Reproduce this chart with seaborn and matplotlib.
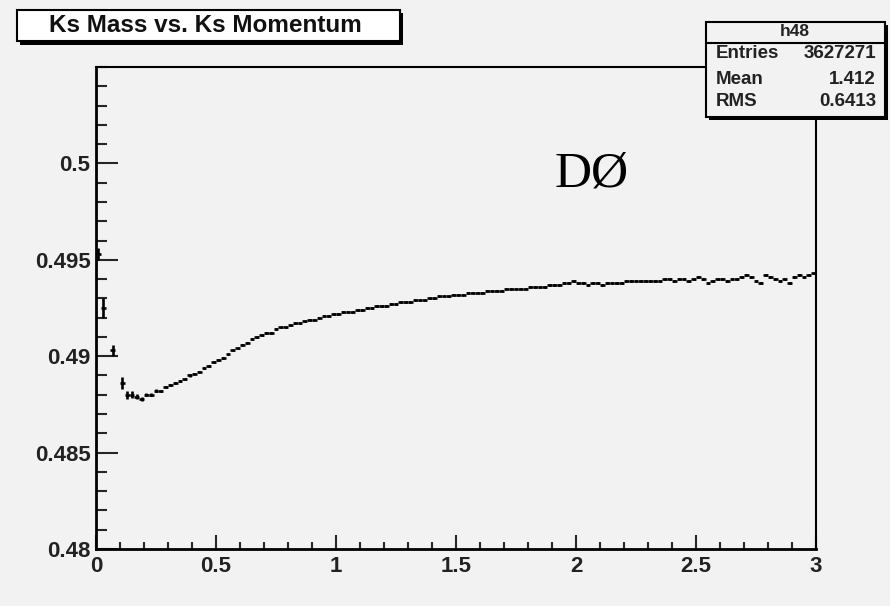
import numpy as np
import pandas as pd
import matplotlib
matplotlib.use("Agg")
import matplotlib.pyplot as plt
from matplotlib.patches import Rectangle
import seaborn as sns

# ---------------- data ----------------
title_text = "Ks Mass vs. Ks Momentum"
hist_name = "h48"
stat_labels = ["Entries", "Mean", "RMS"]
stat_values = ["3627271", "1.412", "0.6413"]
experiment_label = "DØ"

bin_width = 0.02
x_min, x_max = 0.0, 3.0
y_min, y_max = 0.48, 0.505
x_major_ticks = [0, 0.5, 1, 1.5, 2, 2.5, 3]
x_tick_labels = ["0", "0.5", "1", "1.5", "2", "2.5", "3"]
y_major_ticks = [0.48, 0.485, 0.49, 0.495, 0.5]
y_tick_labels = ["0.48", "0.485", "0.49", "0.495", "0.5"]

nan = np.nan
mass = [
    0.4953, 0.4925, nan, 0.4903, nan, 0.4886, 0.4880, 0.4880, 0.4879, 0.4878,
    0.4880, 0.4880, 0.4882, 0.4882, 0.4884, 0.4885, 0.4886, 0.4887, 0.4888, 0.4890,
    0.4891, 0.4892, 0.4894, 0.4895, 0.4897, 0.4898, 0.4899, 0.4901, 0.4903, 0.4904,
    0.4906, 0.4907, 0.4909, 0.4910, 0.4911, 0.4912, 0.4912, 0.4914, 0.4915, 0.4915,
    0.4916, 0.4917, 0.4917, 0.4918, 0.4919, 0.4919, 0.4920, 0.4921, 0.4921, 0.4922,
    0.4922, 0.4923, 0.4923, 0.4923, 0.4924, 0.4924, 0.4925, 0.4925, 0.4926, 0.4926,
    0.4926, 0.4927, 0.4927, 0.4928, 0.4928, 0.4928, 0.4929, 0.4929, 0.4929, 0.4930,
    0.4930, 0.4931, 0.4931, 0.4931, 0.4932, 0.4932, 0.4932, 0.4933, 0.4933, 0.4933,
    0.4933, 0.4934, 0.4934, 0.4934, 0.4934, 0.4935, 0.4935, 0.4935, 0.4935, 0.4935,
    0.4936, 0.4936, 0.4936, 0.4936, 0.4937, 0.4937, 0.4937, 0.4938, 0.4938, 0.4939,
    0.4938, 0.4938, 0.4937, 0.4938, 0.4938, 0.4937, 0.4938, 0.4938, 0.4938, 0.4938,
    0.4939, 0.4939, 0.4939, 0.4939, 0.4939, 0.4939, 0.4939, 0.4939, 0.4940, 0.4940,
    0.4939, 0.4940, 0.4940, 0.4939, 0.4940, 0.4941, 0.4940, 0.4938, 0.4939, 0.4940,
    0.4940, 0.4939, 0.4940, 0.4940, 0.4941, 0.4942, 0.4941, 0.4939, 0.4938, 0.4942,
    0.4941, 0.4940, 0.4939, 0.4940, 0.4938, 0.4941, 0.4942, 0.4941, 0.4942, 0.4943,
]
mass_err_low = [0.0003, 0.0005, nan, 0.0003, nan, 0.0003, 0.0002, 0.00018, 0.00012, 0.0001,
                0.00009, 0.00008, 0.00008, 0.00007, 0.00007, 0.00006, 0.00006, 0.00006, 0.00006, 0.00006]
mass_err_rest = 0.00004

momentum = np.arange(len(mass)) * bin_width + bin_width / 2
mass_err = mass_err_low + [mass_err_rest] * (len(mass) - len(mass_err_low))
df = pd.DataFrame({"momentum": momentum, "mass": mass, "err": mass_err}).dropna()

# ---------------- style ----------------
BG = "#f2f2f2"
sns.set_style("ticks")
plt.rcParams["font.family"] = ["Liberation Sans", "DejaVu Sans"]

W, H = 890, 606
fig = plt.figure(figsize=(W / 100, H / 100), dpi=100, facecolor=BG)
ax = fig.add_axes([96 / W, 1 - 549 / H, (816 - 96) / W, (549 - 67) / H])
ax.set_facecolor(BG)

ax.errorbar(df["momentum"], df["mass"], xerr=bin_width / 2, yerr=df["err"],
            fmt="none", ecolor="black", elinewidth=1.9, capsize=0, zorder=3)
sns.scatterplot(data=df, x="momentum", y="mass", ax=ax, s=3, color="black",
                linewidth=0, zorder=3, legend=False)

ax.set_xlim(x_min, x_max)
ax.set_ylim(y_min, y_max)
ax.set_xlabel("")
ax.set_ylabel("")
ax.set_xticks(x_major_ticks)
ax.set_xticklabels(x_tick_labels)
ax.set_yticks(y_major_ticks)
ax.set_yticklabels(y_tick_labels)
ax.set_xticks(np.arange(0, 3.0001, 0.1), minor=True)
ax.set_yticks(np.arange(0.48, 0.50501, 0.001), minor=True)

ax.tick_params(axis="x", which="major", direction="in", length=10, width=1.5,
               pad=5, labelsize=16, labelcolor="#222222")
ax.tick_params(axis="x", which="minor", direction="in", length=5, width=1.5)
ax.tick_params(axis="y", which="major", direction="in", length=16, width=1.5,
               pad=4, labelsize=16, labelcolor="#222222")
ax.tick_params(axis="y", which="minor", direction="in", length=8, width=1.5)
for lab in ax.get_xticklabels() + ax.get_yticklabels():
    lab.set_fontweight("bold")

for side in ["left", "bottom"]:
    ax.spines[side].set_linewidth(2.0)
    ax.spines[side].set_color("black")
for side in ["top", "right"]:
    ax.spines[side].set_visible(True)
    ax.spines[side].set_linewidth(1.5)
    ax.spines[side].set_color("black")

# experiment label
fig.text(555 / W, 1 - 186 / H, experiment_label, family="Liberation Serif",
         fontsize=37, ha="left", va="baseline", color="black")

# ---------------- title box ----------------
def px_rect(x0, y0, x1, y1, **kw):
    return Rectangle((x0 / W, 1 - y1 / H), (x1 - x0) / W, (y1 - y0) / H,
                     transform=fig.transFigure, **kw)

fig.patches.append(px_rect(20, 13, 403, 45, facecolor="black", edgecolor="none", zorder=5))
fig.patches.append(px_rect(17, 10, 400, 41, facecolor="white", edgecolor="black",
                           linewidth=1.5, zorder=6))
fig.text(205 / W, 1 - 26 / H, title_text, fontsize=17.5, fontweight="bold",
         ha="center", va="center", color="#111111", zorder=7)

# ---------------- stats box ----------------
fig.patches.append(px_rect(709, 25, 888, 120, facecolor="black", edgecolor="none", zorder=5))
fig.patches.append(px_rect(706, 22, 885, 117, facecolor=BG, edgecolor="black",
                           linewidth=1.5, zorder=6))
fig.add_artist(plt.Line2D([706 / W, 885 / W], [1 - 43 / H, 1 - 43 / H],
                          transform=fig.transFigure, color="black", linewidth=1.5, zorder=7))
fig.text(795 / W, 1 - 32 / H, hist_name, fontsize=12.5, fontweight="bold",
         ha="center", va="center", color="#222222", zorder=7)
row_y = [54, 79, 102]
for lab, val, yy in zip(stat_labels, stat_values, row_y):
    fig.text(716 / W, 1 - yy / H, lab, fontsize=13.5, fontweight="bold",
             ha="left", va="center", color="#222222", zorder=7)
    fig.text(876 / W, 1 - yy / H, val, fontsize=13.5, fontweight="bold",
             ha="right", va="center", color="#222222", zorder=7)

fig.savefig("out.png", dpi=100, facecolor=BG)
